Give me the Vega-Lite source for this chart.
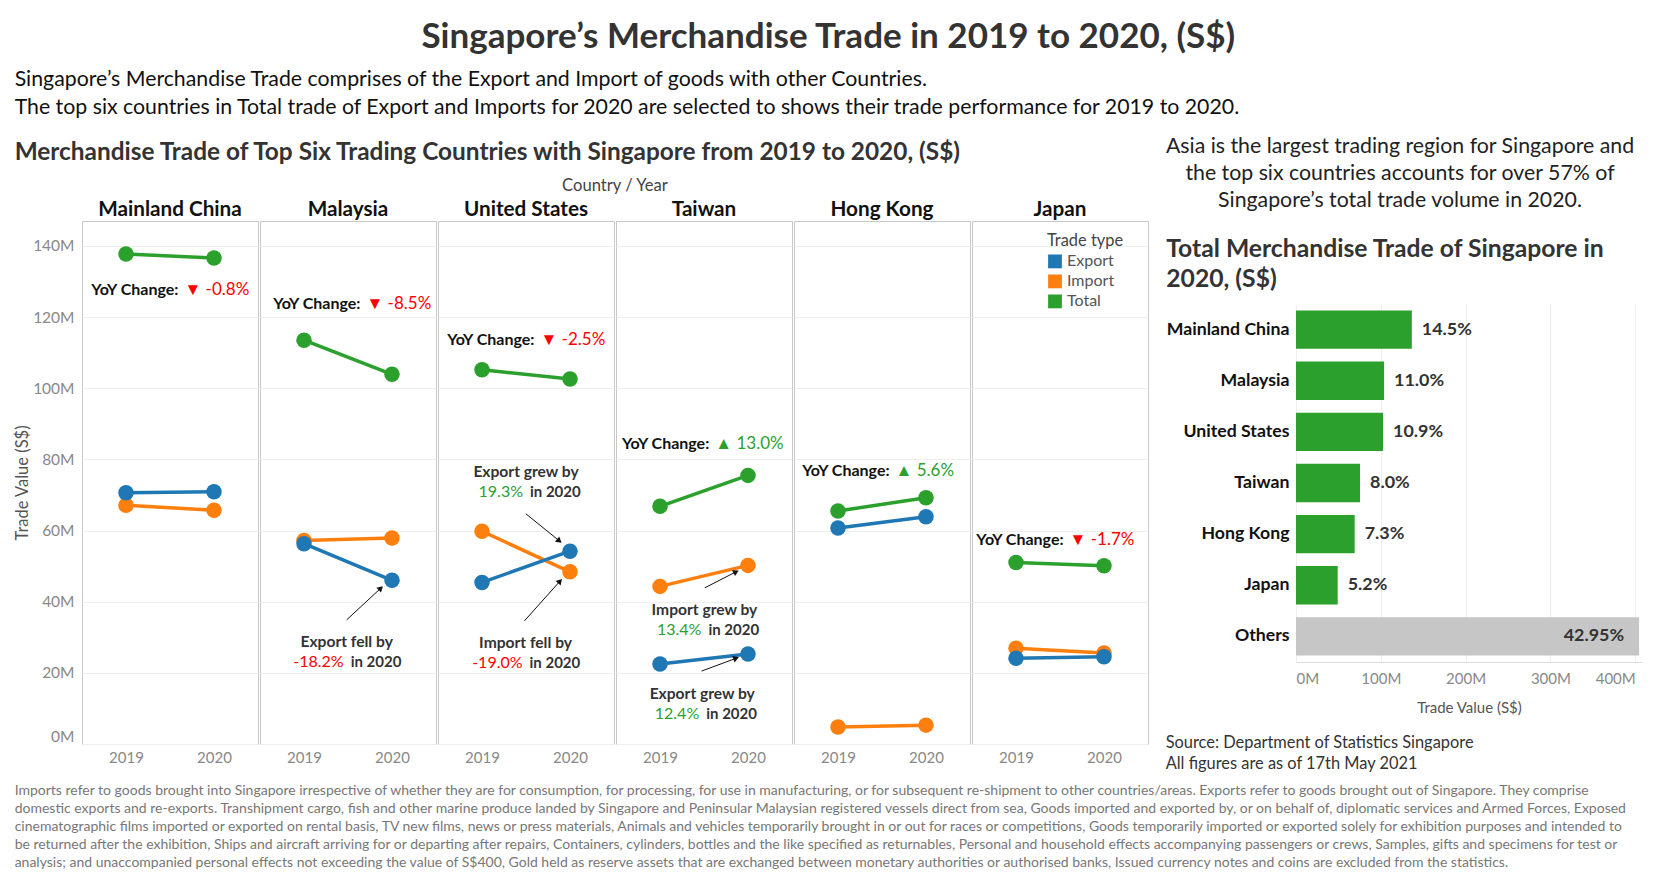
{
  "$schema": "https://vega.github.io/schema/vega-lite/v6.json",
  "background": "white",
  "padding": {"left": 14, "top": 20, "right": 5, "bottom": 5},
  "config": {
    "font": "Lato",
    "view": {"stroke": null},
    "title": {"color": "#333"}
  },
  "title": {"text": "Singapore’s Merchandise Trade in 2019 to 2020, (S$)", "fontSize": 35, "fontWeight": "bold", "anchor": "middle", "offset": 14, "color": "#333"},
  "resolve": {"scale": {"color": "independent"}, "legend": {"color": "independent"}},
  "vconcat": [
    {
      "title": {
        "text": [
          "Imports refer to goods brought into Singapore irrespective of whether they are for consumption, for processing, for use in manufacturing, or for subsequent re-shipment to other countries/areas. Exports refer to goods brought out of Singapore. They comprise",
          "domestic exports and re-exports. Transhipment cargo, fish and other marine produce landed by Singapore and Peninsular Malaysian registered vessels direct from sea, Goods imported and exported by, or on behalf of, diplomatic services and Armed Forces, Exposed",
          "cinematographic films imported or exported on rental basis, TV new films, news or press materials, Animals and vehicles temporarily brought in or out for races or competitions, Goods temporarily imported or exported solely for exhibition purposes and intended to",
          "be returned after the exhibition, Ships and aircraft arriving for or departing after repairs, Containers, cylinders, bottles and the like specified as returnables, Personal and household effects accompanying passengers or crews, Samples, gifts and specimens for test or",
          "analysis; and unaccompanied personal effects not exceeding the value of S$400, Gold held as reserve assets that are exchanged between monetary authorities or authorised banks, Issued currency notes and coins are excluded from the statistics."
        ],
        "orient": "bottom", "anchor": "start", "fontSize": 14, "fontWeight": "normal", "color": "#777", "lineHeight": 18, "offset": 12
      },
      "resolve": {"scale": {"color": "independent"}, "legend": {"color": "independent"}},
      "vconcat": [
        {
          "title": {
            "text": [
              "Singapore’s Merchandise Trade comprises of the Export and Import of goods with other Countries.",
              "The top six countries in Total trade of Export and Imports for 2020 are selected to shows their trade performance for 2019 to 2020."
            ],
            "anchor": "start", "fontSize": 21.3, "fontWeight": "normal", "color": "#111", "lineHeight": 28, "offset": 18
          },
          "resolve": {"scale": {"color": "independent"}, "legend": {"color": "independent"}},
          "spacing": 16,
          "hconcat": [
            {
              "title": {"text": "Merchandise Trade of Top Six Trading Countries with Singapore from 2019 to 2020, (S$)", "anchor": "start", "fontSize": 24.4, "fontWeight": "bold", "color": "#333", "offset": 13},
              "data": {"values": [
                {"kind": "pt", "country": "Mainland China", "type": "Import", "year": 2019, "value": 67.1},
                {"kind": "pt", "country": "Mainland China", "type": "Import", "year": 2020, "value": 65.7},
                {"kind": "pt", "country": "Malaysia", "type": "Import", "year": 2019, "value": 57.2},
                {"kind": "pt", "country": "Malaysia", "type": "Import", "year": 2020, "value": 57.9},
                {"kind": "pt", "country": "United States", "type": "Import", "year": 2019, "value": 59.8},
                {"kind": "pt", "country": "United States", "type": "Import", "year": 2020, "value": 48.4},
                {"kind": "pt", "country": "Taiwan", "type": "Import", "year": 2019, "value": 44.3},
                {"kind": "pt", "country": "Taiwan", "type": "Import", "year": 2020, "value": 50.2},
                {"kind": "pt", "country": "Hong Kong", "type": "Import", "year": 2019, "value": 4.8},
                {"kind": "pt", "country": "Hong Kong", "type": "Import", "year": 2020, "value": 5.3},
                {"kind": "pt", "country": "Japan", "type": "Import", "year": 2019, "value": 26.9},
                {"kind": "pt", "country": "Japan", "type": "Import", "year": 2020, "value": 25.6},
                {"kind": "pt", "country": "Mainland China", "type": "Export", "year": 2019, "value": 70.6},
                {"kind": "pt", "country": "Mainland China", "type": "Export", "year": 2020, "value": 70.9},
                {"kind": "pt", "country": "Malaysia", "type": "Export", "year": 2019, "value": 56.3},
                {"kind": "pt", "country": "Malaysia", "type": "Export", "year": 2020, "value": 46.0},
                {"kind": "pt", "country": "United States", "type": "Export", "year": 2019, "value": 45.4},
                {"kind": "pt", "country": "United States", "type": "Export", "year": 2020, "value": 54.2},
                {"kind": "pt", "country": "Taiwan", "type": "Export", "year": 2019, "value": 22.5},
                {"kind": "pt", "country": "Taiwan", "type": "Export", "year": 2020, "value": 25.3},
                {"kind": "pt", "country": "Hong Kong", "type": "Export", "year": 2019, "value": 60.7},
                {"kind": "pt", "country": "Hong Kong", "type": "Export", "year": 2020, "value": 63.9},
                {"kind": "pt", "country": "Japan", "type": "Export", "year": 2019, "value": 24.1},
                {"kind": "pt", "country": "Japan", "type": "Export", "year": 2020, "value": 24.5},
                {"kind": "pt", "country": "Mainland China", "type": "Total", "year": 2019, "value": 137.7},
                {"kind": "pt", "country": "Mainland China", "type": "Total", "year": 2020, "value": 136.6},
                {"kind": "pt", "country": "Malaysia", "type": "Total", "year": 2019, "value": 113.5},
                {"kind": "pt", "country": "Malaysia", "type": "Total", "year": 2020, "value": 103.9},
                {"kind": "pt", "country": "United States", "type": "Total", "year": 2019, "value": 105.2},
                {"kind": "pt", "country": "United States", "type": "Total", "year": 2020, "value": 102.6},
                {"kind": "pt", "country": "Taiwan", "type": "Total", "year": 2019, "value": 66.8},
                {"kind": "pt", "country": "Taiwan", "type": "Total", "year": 2020, "value": 75.5},
                {"kind": "pt", "country": "Hong Kong", "type": "Total", "year": 2019, "value": 65.5},
                {"kind": "pt", "country": "Hong Kong", "type": "Total", "year": 2020, "value": 69.2},
                {"kind": "pt", "country": "Japan", "type": "Total", "year": 2019, "value": 51.0},
                {"kind": "pt", "country": "Japan", "type": "Total", "year": 2020, "value": 50.1},
                {"kind": "yoy", "country": "Mainland China", "ax": 2019.63, "ay": 127.6, "pct": "▼ -0.8%", "dir": "down"},
                {"kind": "yoy", "country": "Malaysia", "ax": 2019.675, "ay": 123.6, "pct": "▼ -8.5%", "dir": "down"},
                {"kind": "yoy", "country": "United States", "ax": 2019.63, "ay": 113.5, "pct": "▼ -2.5%", "dir": "down"},
                {"kind": "yoy", "country": "Taiwan", "ax": 2019.594, "ay": 84.2, "pct": "▲ 13.0%", "dir": "up"},
                {"kind": "yoy", "country": "Hong Kong", "ax": 2019.62, "ay": 76.6, "pct": "▲ 5.6%", "dir": "up"},
                {"kind": "yoy", "country": "Japan", "ax": 2019.575, "ay": 57.4, "pct": "▼ -1.7%", "dir": "down"},
                {"kind": "note", "country": "Malaysia", "ax": 2019.485, "ay": 28.7, "head": "Export fell by", "num": "-18.2%", "dir": "down"},
                {"kind": "note", "country": "United States", "ax": 2019.5, "ay": 76.5, "head": "Export grew by", "num": "19.3%", "dir": "up"},
                {"kind": "note", "country": "United States", "ax": 2019.495, "ay": 28.5, "head": "Import fell by", "num": "-19.0%", "dir": "down"},
                {"kind": "note", "country": "Taiwan", "ax": 2019.505, "ay": 37.6, "head": "Import grew by", "num": "13.4%", "dir": "up"},
                {"kind": "note", "country": "Taiwan", "ax": 2019.48, "ay": 14.0, "head": "Export grew by", "num": "12.4%", "dir": "up"},
                {"kind": "arrow", "country": "Malaysia", "ax": 2019.485, "ay": 34.9, "bx": 2019.873, "by": 43.8, "angle": 47},
                {"kind": "arrow", "country": "United States", "ax": 2019.499, "ay": 64.7, "bx": 2019.879, "by": 57.1, "angle": 129},
                {"kind": "arrow", "country": "United States", "ax": 2019.482, "ay": 34.6, "bx": 2019.887, "by": 45.8, "angle": 42},
                {"kind": "arrow", "country": "Taiwan", "ax": 2019.509, "ay": 43.9, "bx": 2019.865, "by": 48.4, "angle": 63},
                {"kind": "arrow", "country": "Taiwan", "ax": 2019.473, "ay": 20.5, "bx": 2019.865, "by": 24.1, "angle": 70}
              ]},
              "facet": {
                "column": {
                  "field": "country", "type": "nominal",
                  "sort": ["Mainland China", "Malaysia", "United States", "Taiwan", "Hong Kong", "Japan"],
                  "header": {"title": "Country / Year", "titleFontSize": 16.6, "titleFontWeight": "normal", "titleColor": "#444", "titlePadding": -6, "labelFontSize": 20.7, "labelFontWeight": "bold", "labelColor": "#111", "labelPadding": -1}
                }
              },
              "spacing": 0,
              "spec": {
                "width": 176,
                "height": 523,
                "view": {"stroke": "#c8c8c8"},
                "layer": [
                  {
                    "transform": [{"filter": "datum.kind === 'pt'"}],
                    "mark": {"type": "line", "strokeWidth": 3.5},
                    "encoding": {
                      "x": {"field": "year", "type": "quantitative", "scale": {"domain": [2018.5, 2020.5], "nice": false, "zero": false},
                        "axis": {"values": [2019, 2020], "format": "d", "title": null, "labelColor": "#888", "labelFontSize": 15, "ticks": false, "domain": false, "grid": false, "labelPadding": 5, "labelAngle": 0}},
                      "y": {"field": "value", "type": "quantitative", "scale": {"domain": [0, 147], "nice": false},
                        "axis": {"values": [0, 20, 40, 60, 80, 100, 120, 140], "labelExpr": "datum.value + 'M'", "title": "Trade Value (S$)", "titleFontSize": 16.5, "titleFontWeight": "normal", "titleColor": "#555", "labelColor": "#888", "labelFontSize": 15.5, "labelFlush": true, "gridColor": "#eeeeee", "ticks": false, "domain": false, "labelPadding": 7, "titlePadding": 2}},
                      "color": {"field": "type", "type": "nominal", "scale": {"domain": ["Export", "Import", "Total"], "range": ["#1f77b4", "#ff7f0e", "#2ca02c"]},
                        "legend": {"title": "Trade type", "orient": "none", "legendX": 965, "legendY": 12, "symbolType": "square", "symbolSize": 190, "symbolStrokeWidth": 0, "labelFontSize": 16, "labelColor": "#555", "titleFontSize": 16.4, "titleFontWeight": "normal", "titleColor": "#444", "rowPadding": 4, "titlePadding": 4}},
                      "detail": {"field": "type"}
                    }
                  },
                  {
                    "transform": [{"filter": "datum.kind === 'pt'"}],
                    "mark": {"type": "circle", "size": 240, "opacity": 1},
                    "encoding": {
                      "x": {"field": "year", "type": "quantitative"},
                      "y": {"field": "value", "type": "quantitative"},
                      "color": {"field": "type", "type": "nominal"}
                    }
                  },
                  {
                    "transform": [{"filter": "datum.kind === 'arrow'"}],
                    "mark": {"type": "rule", "color": "#111", "strokeWidth": 1},
                    "encoding": {
                      "x": {"field": "ax", "type": "quantitative"},
                      "y": {"field": "ay", "type": "quantitative"},
                      "x2": {"field": "bx"},
                      "y2": {"field": "by"}
                    }
                  },
                  {
                    "transform": [{"filter": "datum.kind === 'arrow'"}],
                    "mark": {"type": "point", "shape": "triangle-up", "filled": true, "color": "#111", "size": 45, "opacity": 1},
                    "encoding": {
                      "x": {"field": "bx", "type": "quantitative"},
                      "y": {"field": "by", "type": "quantitative"},
                      "angle": {"field": "angle", "type": "quantitative", "scale": null}
                    }
                  },
                  {
                    "transform": [{"filter": "datum.kind === 'yoy'"}],
                    "mark": {"type": "text", "text": "YoY Change:", "align": "right", "dx": -3, "fontSize": 16, "fontWeight": "bold", "color": "#111"},
                    "encoding": {
                      "x": {"field": "ax", "type": "quantitative"},
                      "y": {"field": "ay", "type": "quantitative"}
                    }
                  },
                  {
                    "transform": [{"filter": "datum.kind === 'yoy'"}],
                    "mark": {"type": "text", "align": "left", "dx": 3, "fontSize": 17},
                    "encoding": {
                      "x": {"field": "ax", "type": "quantitative"},
                      "y": {"field": "ay", "type": "quantitative"},
                      "text": {"field": "pct"},
                      "color": {"condition": {"test": "datum.dir === 'down'", "value": "#ff0000"}, "value": "#2ca02c"}
                    }
                  },
                  {
                    "transform": [{"filter": "datum.kind === 'note'"}],
                    "mark": {"type": "text", "align": "center", "fontSize": 15.6, "fontWeight": "bold", "color": "#333"},
                    "encoding": {
                      "x": {"field": "ax", "type": "quantitative"},
                      "y": {"field": "ay", "type": "quantitative"},
                      "text": {"field": "head"}
                    }
                  },
                  {
                    "transform": [{"filter": "datum.kind === 'note'"}],
                    "mark": {"type": "text", "align": "right", "dx": -3, "dy": 20, "fontSize": 16},
                    "encoding": {
                      "x": {"field": "ax", "type": "quantitative"},
                      "y": {"field": "ay", "type": "quantitative"},
                      "text": {"field": "num"},
                      "color": {"condition": {"test": "datum.dir === 'down'", "value": "#ff0000"}, "value": "#2ca02c"}
                    }
                  },
                  {
                    "transform": [{"filter": "datum.kind === 'note'"}],
                    "mark": {"type": "text", "text": "in 2020", "align": "left", "dx": 4, "dy": 20, "fontSize": 15, "fontWeight": "bold", "color": "#333"},
                    "encoding": {
                      "x": {"field": "ax", "type": "quantitative"},
                      "y": {"field": "ay", "type": "quantitative"}
                    }
                  }
                ]
              }
            },
            {
              "title": {"text": ["Source: Department of Statistics Singapore", "All figures are as of 17th May 2021"], "orient": "bottom", "anchor": "start", "fontSize": 16.4, "fontWeight": "normal", "color": "#333", "lineHeight": 21, "offset": 20},
              "spacing": 15,
              "vconcat": [
                {
                  "title": {"text": ["Asia is the largest trading region for Singapore and", "the top six countries accounts for over 57% of", "Singapore’s total trade volume in 2020."], "anchor": "middle", "dx": -69, "fontSize": 21.3, "fontWeight": "normal", "color": "#222", "lineHeight": 26.7, "offset": 9.5},
                  "width": 346,
                  "height": 1,
                  "view": {"stroke": null},
                  "data": {"values": [{}]},
                  "mark": {"type": "text", "text": " ", "fontSize": 1},
                  "encoding": {}
                },
                {
                  "title": {"text": ["Total Merchandise Trade of Singapore in", "2020, (S$)"], "anchor": "start", "fontSize": 24.7, "fontWeight": "bold", "color": "#333", "lineHeight": 30, "offset": 12},
                  "width": 346,
                  "height": 358,
                  "view": {"stroke": null},
                  "data": {"values": [
                    {"country": "Mainland China", "trade": 136.6, "share": "14.5%"},
                    {"country": "Malaysia", "trade": 103.9, "share": "11.0%"},
                    {"country": "United States", "trade": 102.6, "share": "10.9%"},
                    {"country": "Taiwan", "trade": 75.5, "share": "8.0%"},
                    {"country": "Hong Kong", "trade": 69.2, "share": "7.3%"},
                    {"country": "Japan", "trade": 49.2, "share": "5.2%"},
                    {"country": "Others", "trade": 404.6, "share": "42.95%"}
                  ]},
                  "encoding": {
                    "y": {"field": "country", "type": "nominal", "sort": null, "scale": {"paddingInner": 0.25, "paddingOuter": 0.125},
                      "axis": {"title": null, "labelFontSize": 17.7, "labelFontWeight": "bold", "labelColor": "#111", "ticks": false, "domain": false, "labelPadding": 7}},
                    "x": {"field": "trade", "type": "quantitative", "scale": {"domain": [0, 408], "nice": false},
                      "axis": {"values": [0, 100, 200, 300, 400], "labelExpr": "datum.value + 'M'", "labelFlush": 12, "title": "Trade Value (S$)", "titleFontSize": 15, "titleFontWeight": "normal", "titleColor": "#555", "labelColor": "#888", "labelFontSize": 15, "gridColor": "#eeeeee", "domainColor": "#dddddd", "ticks": false, "labelPadding": 9, "titlePadding": 14}}
                  },
                  "layer": [
                    {
                      "mark": {"type": "bar"},
                      "encoding": {"color": {"condition": {"test": "datum.country === 'Others'", "value": "#c6c6c6"}, "value": "#2ca02c"}}
                    },
                    {
                      "transform": [{"filter": "datum.country !== 'Others'"}],
                      "mark": {"type": "text", "align": "left", "dx": 10, "fontSize": 17.9, "fontWeight": "bold", "color": "#333"},
                      "encoding": {"text": {"field": "share"}}
                    },
                    {
                      "transform": [{"filter": "datum.country === 'Others'"}],
                      "mark": {"type": "text", "align": "right", "dx": -15, "fontSize": 17.9, "fontWeight": "bold", "color": "#333"},
                      "encoding": {"text": {"field": "share"}}
                    }
                  ]
                }
              ]
            }
          ]
        }
      ]
    }
  ]
}
